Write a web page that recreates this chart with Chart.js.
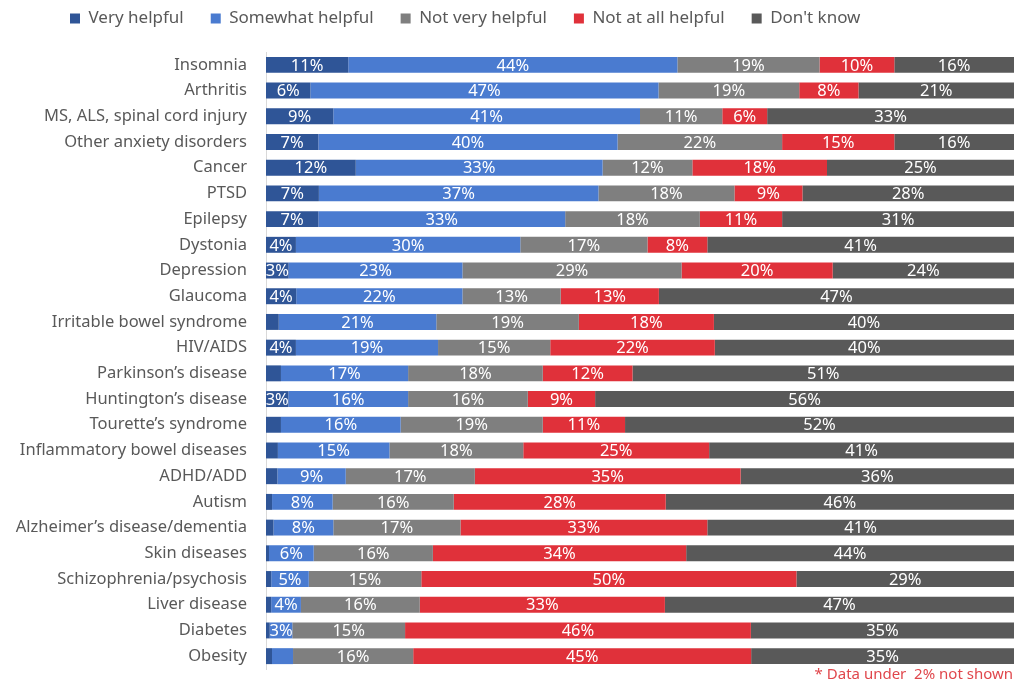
<!DOCTYPE html>
<html lang="en">
<head>
  <meta charset="UTF-8" />
  <title>Perceived helpfulness by condition</title>
  <script src="https://cdn.jsdelivr.net/npm/chart.js"></script>
  <style>
    body {
      margin: 0;
      background: #fff;
    }
    #wrap {
      width: 1016px;
      height: 684px;
      position: relative;
    }
  </style>
</head>
<body>

<div id="wrap">
  <canvas id="chart"></canvas>
</div>

<script>
  const conditions = [
    "Insomnia", "Arthritis", "MS, ALS, spinal cord injury", "Other anxiety disorders",
    "Cancer", "PTSD", "Epilepsy", "Dystonia", "Depression", "Glaucoma",
    "Irritable bowel syndrome", "HIV/AIDS", "Parkinson\u2019s disease", "Huntington\u2019s disease",
    "Tourette\u2019s syndrome", "Inflammatory bowel diseases", "ADHD/ADD", "Autism",
    "Alzheimer\u2019s disease/dementia", "Skin diseases", "Schizophrenia/psychosis",
    "Liver disease", "Diabetes", "Obesity"
  ];

  const veryHelpful     = [11, 6, 9, 7, 12, 7, 7, 4, 3, 4, 1.7, 4, 2, 3, 2, 1.6, 1.5, 0.8, 1, 0.4, 0.7, 0.7, 0.5, 0.8];
  const somewhatHelpful = [44, 47, 41, 40, 33, 37, 33, 30, 23, 22, 21, 19, 17, 16, 16, 15, 9, 8, 8, 6, 5, 4, 3, 2.8];
  const notVeryHelpful  = [19, 19, 11, 22, 12, 18, 18, 17, 29, 13, 19, 15, 18, 16, 19, 18, 17, 16, 17, 16, 15, 16, 15, 16];
  const notAtAllHelpful = [10, 8, 6, 15, 18, 9, 11, 8, 20, 13, 18, 22, 12, 9, 11, 25, 35, 28, 33, 34, 50, 33, 46, 45];
  const dontKnow        = [16, 21, 33, 16, 25, 28, 31, 41, 24, 47, 40, 40, 51, 56, 52, 41, 36, 46, 41, 44, 29, 47, 35, 35];

  const seriesNames  = ["Very helpful", "Somewhat helpful", "Not very helpful", "Not at all helpful", "Don't know"];
  const seriesValues = [veryHelpful, somewhatHelpful, notVeryHelpful, notAtAllHelpful, dontKnow];
  const seriesColors = ["#2F5597", "#4A7BD0", "#7F7F7F", "#E0313A", "#595959"];

  const FONT = '"Noto Sans", "Open Sans", sans-serif';

  // each row is drawn as a 100% stacked bar
  const rowTotals = conditions.map((c, i) => seriesValues.reduce((s, arr) => s + arr[i], 0));

  const datasets = seriesNames.map((name, k) => ({
    label: name,
    raw: seriesValues[k],
    data: seriesValues[k].map((v, i) => v / rowTotals[i] * 100),
    backgroundColor: seriesColors[k],
    borderWidth: 0,
    categoryPercentage: 0.62,
    barPercentage: 1
  }));

  // white percentage labels in the middle of each segment
  const segmentLabels = {
    id: 'segmentLabels',
    afterDatasetsDraw(chart) {
      const ctx = chart.ctx;
      ctx.save();
      ctx.font = '16.5px ' + FONT;
      ctx.fillStyle = '#ffffff';
      ctx.textAlign = 'center';
      ctx.textBaseline = 'middle';
      chart.data.datasets.forEach((ds, i) => {
        const meta = chart.getDatasetMeta(i);
        meta.data.forEach((bar, j) => {
          const v = ds.raw[j];
          if (v < 2.9) return;
          ctx.fillText(Math.round(v) + '%', (bar.x + bar.base) / 2, bar.y + 1);
        });
      });
      ctx.restore();
    }
  };

  // the legend starts a bit right of the canvas edge, like the original
  const legendOffset = {
    id: 'legendOffset',
    afterLayout(chart) {
      chart.legend.left += 60;
    }
  };

  const footnote = {
    id: 'footnote',
    afterDraw(chart) {
      const ctx = chart.ctx;
      ctx.save();
      ctx.font = '15px ' + FONT;
      ctx.fillStyle = '#E0474C';
      ctx.textAlign = 'right';
      ctx.textBaseline = 'middle';
      ctx.fillText('* Data under  2% not shown', chart.width - 3, chart.height - 9);
      ctx.restore();
    }
  };

  new Chart(document.getElementById("chart"), {
    type: 'bar',
    data: {
      labels: conditions,
      datasets: datasets
    },
    plugins: [segmentLabels, legendOffset, footnote],
    options: {
      indexAxis: 'y',
      responsive: true,
      maintainAspectRatio: false,
      animation: false,
      layout: {
        padding: { top: 0, right: 2, bottom: 15, left: 0 }
      },
      plugins: {
        legend: {
          position: 'top',
          align: 'start',
          labels: {
            boxWidth: 10,
            boxHeight: 10,
            padding: 10,
            color: '#595959',
            font: { family: FONT, size: 17 },
            generateLabels(chart) {
              return Chart.defaults.plugins.legend.labels.generateLabels(chart)
                .map(item => ({ ...item, text: item.text + '\u2003' }));
            }
          }
        },
        tooltip: { enabled: false }
      },
      scales: {
        x: {
          stacked: true,
          position: 'top',
          min: 0,
          max: 100,
          afterFit(scale) { scale.height = 15; },
          grid: { display: false },
          border: { display: false },
          ticks: { display: false }
        },
        y: {
          stacked: true,
          afterFit(scale) {
            scale.width = 266;
            // tick padding should only push labels sideways, not shrink the plot vertically
            scale.paddingTop = 0;
            scale.paddingBottom = 0;
          },
          grid: { display: false, drawTicks: false },
          border: { display: true, color: '#D9D9D9' },
          ticks: {
            color: '#595959',
            padding: 19,
            autoSkip: false,
            font: { family: FONT, size: 16.5 }
          }
        }
      }
    }
  });
</script>

</body>
</html>
